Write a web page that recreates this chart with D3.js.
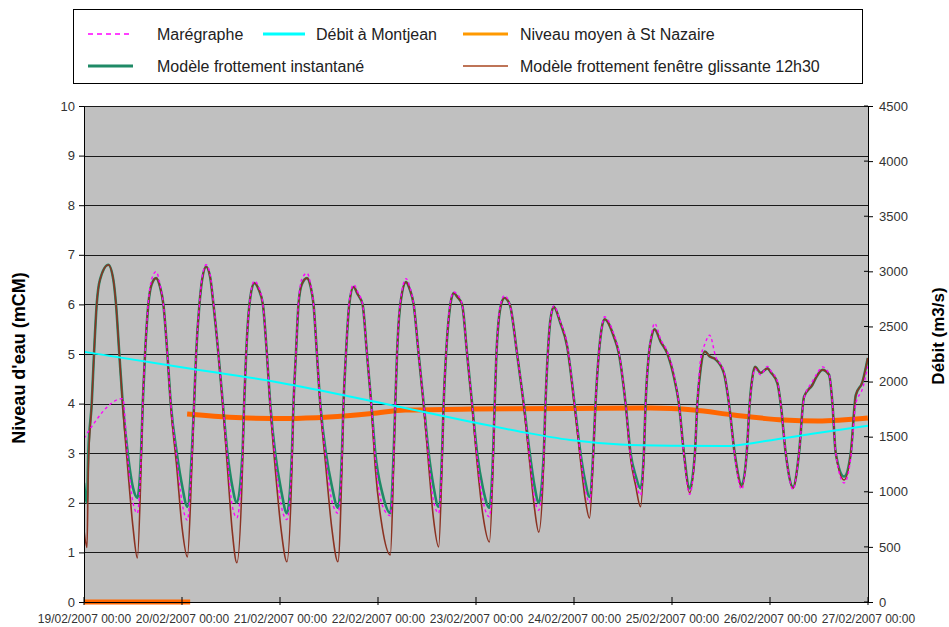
<!DOCTYPE html>
<html><head><meta charset="utf-8">
<script src="https://cdn.jsdelivr.net/npm/d3@7/dist/d3.min.js"></script>
<style>body{margin:0;background:#fff}svg{display:block;font-family:"Liberation Sans",Arial,sans-serif}</style>
</head><body><svg id="c" width="949" height="627"></svg>
<script>
// ---------------- DATA ----------------
const startDate = new Date(2007, 1, 19, 0, 0);
const dayTicks = [0, 24, 48, 72, 96, 120, 144, 168, 192];
const dayTickLabels = ["19/02/2007 00:00","20/02/2007 00:00","21/02/2007 00:00","22/02/2007 00:00","23/02/2007 00:00","24/02/2007 00:00","25/02/2007 00:00","26/02/2007 00:00","27/02/2007 00:00"];
const levelTicks = [0,1,2,3,4,5,6,7,8,9,10];
const debitTicks = [0,500,1000,1500,2000,2500,3000,3500,4000,4500];

const seriesNames = ["Marégraphe","Débit à Montjean","Niveau moyen à St Nazaire","Modèle frottement instantané","Modèle frottement fenêtre glissante 12h30"];

// hours since 19/02/2007 00:00
const tideHours = [
 0,0.74,1.05,1.89,2.45,3.11,3.92,5.96,7.18,7.84,8.65,9.49,10.71,12.01,13.07,
 13.97,14.39,14.95,15.76,16.55,17.65,18.63,19.44,20.42,21.25,22.73,24.02,25.32,
 26.40,26.97,27.46,28.27,28.93,29.91,30.89,31.70,32.92,34.00,35.13,36.28,37.43,
 38.81,39.22,39.71,40.52,41.68,42.78,43.81,44.79,45.60,46.82,48.29,49.69,
 50.92,51.31,51.90,52.53,53.32,54.59,55.52,56.21,57.04,57.86,59.25,60.67,62.19,
 63.17,63.56,64.15,64.96,66.02,67.05,68.22,69.30,70.36,71.34,73.05,75.02,
 75.83,76.24,76.66,77.47,78.87,79.80,80.73,81.95,83.18,84.41,85.56,86.86,
 87.69,88.08,88.67,89.73,90.54,91.44,92.59,93.82,95.04,96.27,97.69,99.28,
 100.19,100.58,101.00,102.15,102.96,104.26,106.07,107.69,109.16,110.31,111.37,
 112.60,113.01,113.58,114.24,115.05,116.69,118.33,120.12,121.59,122.70,123.80,
 124.71,125.27,126.08,126.74,127.48,129.76,130.99,132.63,133.85,135.08,136.30,
 137.11,137.53,138.34,139.00,139.74,141.21,142.85,144.47,145.69,146.92,148.31,
 149.61,150.20,151.01,152.06,153.22,154.69,156.73,157.95,159.35,161.07,
 162.29,163.03,163.64,164.33,165.72,167.37,168.30,169.82,170.62,171.85,173.64,
 175.11,176.34,178.40,179.45,180.85,182.46,183.29,184.10,186.14,
 187.78,189.01,190.65,191.95
];
const maregraphe = [
 3.3,null,null,null,null,null,null,null,null,null,null,4.1,2.9,2.0,1.79,
 2.9,4,5,6.05,6.5,6.66,6.4,6,5,4,2.9,2.0,1.65,
 2.9,4,5,6,6.55,6.8,6.6,6.05,5,4,2.9,1.95,1.7,
 2.9,4,5,6,6.47,6.35,6,5,4,2.9,1.95,1.66,
 2.9,4,5,6.05,6.5,6.63,6.4,6,5,4,2.9,2.05,1.79,
 2.9,4,5,6.05,6.4,6.25,6,5,4,2.9,1.95,1.74,
 2.9,4,5,6.05,6.52,6.35,6,5,4,2.9,2.05,1.79,
 2.9,4,5,6.05,6.25,6.2,6,5,4,2.9,2.05,1.72,
 2.9,4,5,6.05,6.18,6,5,4,2.9,2.1,1.85,
 2.95,4,5,5.7,5.97,5.65,5.2,4,2.95,2.3,2.0,
 2.95,4,5,5.5,5.75,5.4,5.05,4,2.95,2.45,2.15,
 3,4,5,5.4,5.62,5.3,5.05,4.6,4,2.95,2.17,
 3,4,4.9,5.2,5.38,4.95,4.65,4,2.95,2.27,
 3,4,4.45,4.7,4.58,4.75,4.65,4.45,4,3,2.27,
 3,4.1,4.45,4.6,4.74,4.6,4,3,2.4,
 2.9,4.0,4.3,4.75
];
const modeleInstantane = [
 2.4,2.0,3.0,4.0,5.0,6.0,6.5,6.8,6.5,6.0,5.0,4.0,3.0,2.3,2.1,
 3,4,5,6,6.4,6.53,6.35,6,5,4,3,2.35,1.92,
 3,4,5,6,6.5,6.76,6.55,6,5,4,3,2.35,2.0,
 3,4,5,6,6.43,6.3,6,5,4,3,2.25,1.79,
 3,4,5,6,6.4,6.53,6.35,6,5,4,3,2.35,1.9,
 3,4,5,6,6.35,6.2,6,5,4,3,2.2,1.79,
 3,4,5,6,6.45,6.3,6,5,4,3,2.35,1.92,
 3,4,5,6,6.23,6.15,6,5,4,3,2.3,1.9,
 3,4,5,6,6.13,6,5,4,3,2.35,2.0,
 3,4,5,5.7,5.95,5.62,5.15,4,3,2.45,2.12,
 3,4,5,5.5,5.7,5.35,5.01,4,3,2.55,2.29,
 3,4,5,5.35,5.5,5.25,5.01,4.54,4,3,2.29,
 3,4,4.7,5.05,4.95,4.89,4.61,4,3,2.36,
 3,4,4.5,4.74,4.62,4.71,4.62,4.41,4,3,2.32,
 3,4.14,4.38,4.55,4.68,4.58,4,3,2.53,
 3,4.17,4.44,4.92
];
const modeleGlissante = [
 1.45,1.1,2.7,4.0,5.0,6.0,6.5,6.8,6.5,6.0,5.0,3.95,2.7,1.5,0.89,
 2.7,4,5,6,6.4,6.53,6.35,6,5,3.95,2.7,1.5,0.91,
 2.7,4,5,6,6.5,6.76,6.55,6,5,3.95,2.7,1.45,0.79,
 2.7,4,5,6,6.43,6.3,6,5,3.95,2.7,1.45,0.81,
 2.7,4,5,6,6.4,6.53,6.35,6,5,3.95,2.7,1.5,0.81,
 2.7,4,5,6,6.35,6.2,6,5,3.95,2.7,1.5,0.95,
 2.75,4,5,6,6.45,6.3,6,5,3.95,2.75,1.7,1.11,
 2.8,4,5,6,6.23,6.15,6,5,3.95,2.8,1.75,1.21,
 2.8,4,5,6,6.13,6,5,3.95,2.8,1.9,1.41,
 2.85,4,5,5.7,5.95,5.62,5.15,3.95,2.85,2.1,1.69,
 2.9,4,5,5.5,5.7,5.35,5.01,4,2.9,2.35,1.92,
 2.95,4,5,5.35,5.5,5.25,5.01,4.54,4,3,2.2,
 3,4,4.7,5.05,4.95,4.89,4.61,4,3,2.32,
 3,4,4.5,4.74,4.62,4.71,4.62,4.41,4,3,2.29,
 3,4.14,4.38,4.55,4.68,4.58,4,3,2.46,
 3,4.17,4.44,4.92
];
const debitHours = [0,24.27,48.05,71.34,94.63,106.9,119.1,131.4,143.7,157.1,166.9,179.2,191.95];
const debitMontjean = [2270,2128,1990,1817,1636,1545,1470,1430,1418,1415,1460,1530,1600];
const niveauHours = [0,26.0,26.0,25.25,39.96,50,60,70.5,78.7,95,120,138.75,149.3,159.1,171.36,179.7,191.95];
const niveauMoyen = [0,0,null,3.79,3.71,3.70,3.73,3.8,3.87,3.89,3.9,3.91,3.87,3.77,3.67,3.65,3.71];

const colors = {mar:"#ff00ff", debit:"#00ffff", niveau:"#ff6600", inst:"#1f8a66", gliss:"#8b3222"};

// ---------------- CHART ----------------
const svg = d3.select("#c");
const L = 84, R = 868, T = 106, B = 602;
const t0 = startDate.getTime();
const toDate = h => new Date(t0 + h * 3600e3);
const x = d3.scaleTime().domain([toDate(0), toDate(192)]).range([L, R]);
const y = d3.scaleLinear().domain([0, 10]).range([B, T]);
const y2 = d3.scaleLinear().domain([0, 4500]).range([B, T]);

svg.append("rect").attr("x", L).attr("y", T).attr("width", R - L).attr("height", B - T).attr("fill", "#c0c0c0");

// gridlines
svg.append("g").selectAll("line").data(levelTicks.filter(d => d > 0)).join("line")
  .attr("x1", L).attr("x2", R).attr("y1", d => Math.round(y(d)) + 0.5).attr("y2", d => Math.round(y(d)) + 0.5)
  .attr("stroke", "#1a1a1a").attr("stroke-width", 1);

svg.append("defs").append("clipPath").attr("id", "clip")
  .append("rect").attr("x", L).attr("y", T - 2).attr("width", R - L).attr("height", B - T + 6);

const plot = svg.append("g").attr("clip-path", "url(#clip)");

function pts(hours, vals) { return hours.map((h, i) => ({h, v: vals[i]})); }
const lineL = d3.line().defined(d => d.v != null).x(d => x(toDate(d.h))).y(d => y(d.v)).curve(d3.curveMonotoneX);
const lineR = d3.line().x(d => x(toDate(d.h))).y(d => y2(d.v)).curve(d3.curveMonotoneX);

// Niveau moyen
plot.append("path").datum(pts(niveauHours, niveauMoyen)).attr("d", lineL)
  .attr("fill", "none").attr("stroke", colors.niveau).attr("stroke-width", 5);
// modèles
plot.append("path").datum(pts(tideHours, modeleInstantane)).attr("d", lineL)
  .attr("fill", "none").attr("stroke", colors.inst).attr("stroke-width", 2.6);
plot.append("path").datum(pts(tideHours, modeleGlissante)).attr("d", lineL)
  .attr("fill", "none").attr("stroke", colors.gliss).attr("stroke-width", 1.6);
// marégraphe (gaps bridged)
plot.append("path").datum(pts(tideHours, maregraphe).filter(d => d.v != null)).attr("d", lineL)
  .attr("fill", "none").attr("stroke", colors.mar).attr("stroke-width", 1.4).attr("stroke-dasharray", "3,3");
// débit
plot.append("path").datum(pts(debitHours, debitMontjean)).attr("d", lineR)
  .attr("fill", "none").attr("stroke", colors.debit).attr("stroke-width", 2);

// axes
const axL = svg.append("g").attr("transform", `translate(${L},0)`)
  .call(d3.axisLeft(y).tickValues(levelTicks).tickSize(5).tickSizeOuter(0).tickPadding(4));
const axR = svg.append("g").attr("transform", `translate(${R},0)`)
  .call(d3.axisRight(y2).tickValues(debitTicks).tickFormat(d3.format("d")).tickSize(5).tickSizeOuter(0).tickPadding(6));
const axB = svg.append("g").attr("transform", `translate(0,${B})`)
  .call(d3.axisBottom(x).tickValues(dayTicks.map(toDate)).tickFormat((d, i) => dayTickLabels[i]).tickSize(0).tickSizeOuter(0).tickPadding(12));
[axL, axR, axB].forEach(a => {
  a.select(".domain").attr("stroke", "#000");
  a.selectAll(".tick line").attr("stroke", "#000");
  a.selectAll("text").attr("fill", "#333").style("font-family", '"Liberation Sans",Arial,sans-serif');
});
axL.selectAll("text").style("font-size", "13px");
axR.selectAll("text").style("font-size", "13px");
axB.selectAll("text").style("font-size", "12px");
// inner tick halves
svg.append("g").selectAll("line").data(debitTicks).join("line")
  .attr("x1", R - 4).attr("x2", R).attr("y1", d => y2(d)).attr("y2", d => y2(d)).attr("stroke", "#000");
svg.append("g").selectAll("line").data(dayTicks).join("line")
  .attr("x1", d => x(toDate(d))).attr("x2", d => x(toDate(d))).attr("y1", B - 5).attr("y2", B + 3).attr("stroke", "#000");

// axis titles
svg.append("text").attr("transform", `translate(25,358) rotate(-90)`)
  .attr("text-anchor", "middle").style("font-size", "18px").style("font-weight", "bold").attr("fill", "#000")
  .text("Niveau d'eau (mCM)");
svg.append("text").attr("transform", `translate(944,336) rotate(-90)`)
  .attr("text-anchor", "middle").style("font-size", "17px").style("font-weight", "bold").attr("fill", "#000")
  .text("Débit (m3/s)");

// legend
const lg = svg.append("g");
lg.append("rect").attr("x", 73.5).attr("y", 9.5).attr("width", 789).attr("height", 74).attr("fill", "#fff").attr("stroke", "#000");
const legendItems = [
  {name: seriesNames[0], c: colors.mar, w: 1.5, dash: "5,4", lx: 88, tx: 157, ly: 34},
  {name: seriesNames[1], c: colors.debit, w: 3, dash: null, lx: 263, tx: 316, ly: 34},
  {name: seriesNames[2], c: "#ff9900", w: 3, dash: null, lx: 463, tx: 520, ly: 34},
  {name: seriesNames[3], c: colors.inst, w: 3, dash: null, lx: 88, tx: 157, ly: 66},
  {name: seriesNames[4], c: "#a9461f", w: 1.5, dash: null, lx: 463, tx: 520, ly: 66}
];
legendItems.forEach(it => {
  lg.append("line").attr("x1", it.lx).attr("x2", it.lx + (it.lx === 263 ? 42 : 45)).attr("y1", it.ly).attr("y2", it.ly)
    .attr("stroke", it.c).attr("stroke-width", it.w).attr("stroke-dasharray", it.dash);
  lg.append("text").attr("x", it.tx).attr("y", it.ly + 5.5).style("font-size", "16px").attr("fill", "#222").text(it.name);
});
</script></body></html>
